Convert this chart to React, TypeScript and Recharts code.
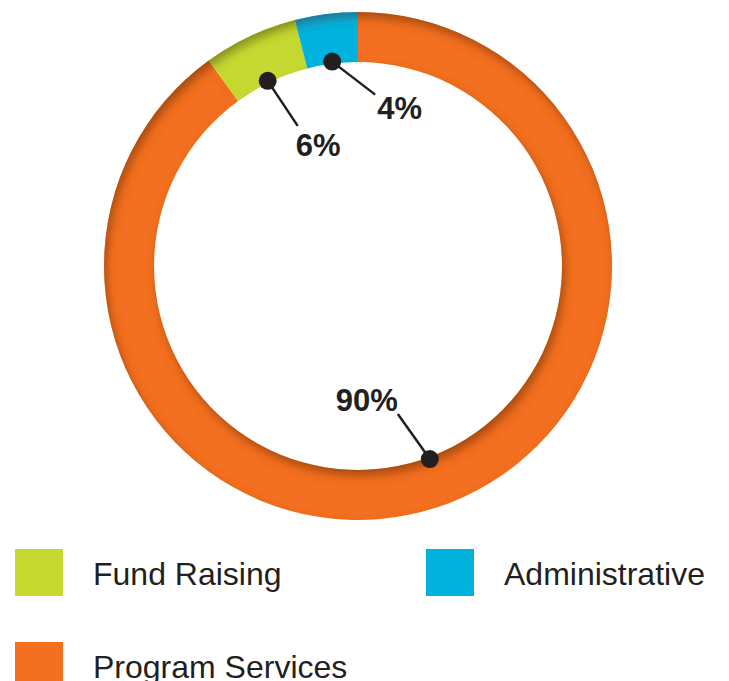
import { PieChart, Pie, Cell, Legend } from "recharts"

// slices in drawing order (clockwise from 12 o'clock)
const categories = ["Program Services", "Fund Raising", "Administrative"]
const shares = [90, 6, 4]
const colors = ["#F37021", "#C6D930", "#00B2DD"]

// legend reading order
const legendOrder = ["Fund Raising", "Administrative", "Program Services"]

const chartData = categories.map((name, i) => ({ name, value: shares[i] }))

// leader line direction / text offset per slice (styling only)
const LEADERS: Record<string, { dx: number; dy: number; tx: number; ty: number; anchor: "start" | "end"; nudge: number }> = {
  "Program Services": { dx: -32, dy: -45, tx: 0, ty: -3, anchor: "end", nudge: 2.4 },
  "Fund Raising": { dx: 30, dy: 45, tx: -2, ty: 30, anchor: "start", nudge: 0.8 },
  Administrative: { dx: 43, dy: 33, tx: 2, ty: 24, anchor: "start", nudge: 0 },
}

const RAD = Math.PI / 180
const TEXT = "#231f20"
const FONT = '"Liberation Sans", Arial, Helvetica, sans-serif'

function renderLabel(props: any) {
  const { cx, cy, midAngle, innerRadius, name, percent } = props
  const cfg = LEADERS[name]
  const a = (midAngle + cfg.nudge) * RAD
  const r = innerRadius + 2
  const x = cx + r * Math.cos(-a)
  const y = cy + r * Math.sin(-a)
  const ex = x + cfg.dx
  const ey = y + cfg.dy
  return (
    <g key={`lbl-${name}`}>
      <line x1={x} y1={y} x2={ex} y2={ey} stroke={TEXT} strokeWidth={2.5} />
      <circle cx={x} cy={y} r={9} fill={TEXT} />
      <text
        x={ex + cfg.tx}
        y={ey + cfg.ty}
        textAnchor={cfg.anchor}
        fill={TEXT}
        fontSize={31}
        fontWeight="bold"
        fontFamily={FONT}
      >
        {`${Math.round(percent * 100)}%`}
      </text>
    </g>
  )
}

function LegendBox() {
  const spots = [
    { left: 15, top: 549 },
    { left: 426, top: 549 },
    { left: 15, top: 642 },
  ]
  return (
    <div style={{ position: "relative", width: 729, height: 681 }}>
      {legendOrder.map((name, i) => {
        const c = colors[categories.indexOf(name)]
        const s = spots[i]
        return (
          <div key={name}>
            <div
              style={{ position: "absolute", left: s.left, top: s.top, width: 48, height: 47, background: c }}
            />
            <div
              style={{
                position: "absolute",
                left: s.left + 78,
                top: s.top + 9,
                fontFamily: FONT,
                fontSize: 32,
                lineHeight: "32px",
                color: TEXT,
                whiteSpace: "nowrap",
              }}
            >
              {name}
            </div>
          </div>
        )
      })}
    </div>
  )
}

export default function App() {
  return (
    <div style={{ position: "absolute", left: 0, top: 0, width: 729, height: 681, background: "#fff", overflow: "hidden" }}>
      <svg width={0} height={0} style={{ position: "absolute" }}>
        <defs>
          <filter id="ringShadow" x="-10%" y="-10%" width="120%" height="120%">
            <feOffset in="SourceAlpha" dx={3} dy={6} />
            <feGaussianBlur stdDeviation={5} result="ob" />
            <feComposite in="SourceAlpha" in2="ob" operator="out" result="inv" />
            <feFlood floodColor="#2a1000" floodOpacity={0.6} />
            <feComposite in2="inv" operator="in" result="sh" />
            <feMerge>
              <feMergeNode in="SourceGraphic" />
              <feMergeNode in="sh" />
            </feMerge>
          </filter>
        </defs>
      </svg>
      <style>{`.recharts-pie { filter: url(#ringShadow); }`}</style>
      <PieChart width={729} height={681} margin={{ top: 0, right: 0, bottom: 0, left: 0 }}>
        <Pie
          data={chartData}
          dataKey="value"
          nameKey="name"
          cx={358}
          cy={266}
          innerRadius={204}
          outerRadius={254}
          startAngle={90}
          endAngle={-270}
          stroke="none"
          labelLine={false}
          label={renderLabel}
          isAnimationActive={false}
        >
          {chartData.map((entry, index) => (
            <Cell key={`cell-${index}`} fill={colors[index]} />
          ))}
        </Pie>
        <Legend
          content={() => <LegendBox />}
          wrapperStyle={{ position: "absolute", left: 0, top: 0, width: 729, height: 681 }}
        />
      </PieChart>
    </div>
  )
}
